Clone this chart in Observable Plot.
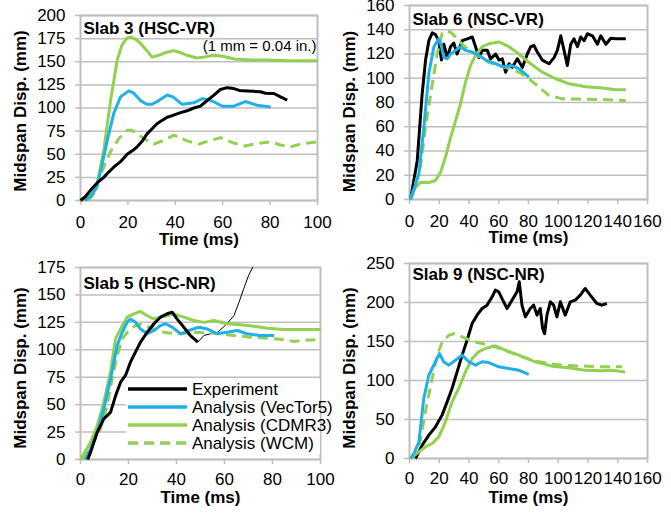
<!DOCTYPE html>
<html><head><meta charset="utf-8">
<script src="https://cdn.jsdelivr.net/npm/d3@7"></script>
<script src="https://cdn.jsdelivr.net/npm/@observablehq/plot@0.6"></script>
<style>
body{margin:0;background:#fff;font-family:"Liberation Sans",Arial,sans-serif;}
#wrap{position:relative;width:671px;height:521px;overflow:hidden;background:#fff;}
.panel{position:absolute;}
#legend{position:absolute;left:126px;top:379px;overflow:visible;}
</style></head><body>
<div id="wrap">
  <div class="panel" id="p1" style="left:0;top:0"></div>
  <div class="panel" id="p2" style="left:335px;top:0"></div>
  <div class="panel" id="p3" style="left:0;top:255px"></div>
  <div class="panel" id="p4" style="left:335px;top:255px"></div>
  <svg id="legend" width="215" height="76"></svg>
</div>
<script>
// ---------- data: [time (ms), midspan displacement (mm)] ----------
const titles = ["Slab 3 (HSC-VR)", "Slab 6 (NSC-VR)", "Slab 5 (HSC-NR)", "Slab 9 (NSC-NR)"];
const seriesNames = ["Experiment", "Analysis (VecTor5)", "Analysis (CDMR3)", "Analysis (WCM)"];
const xTicks100 = [0, 20, 40, 60, 80, 100];
const xTicks160 = [0, 20, 40, 60, 80, 100, 120, 140, 160];
const yTicks3 = [0, 25, 50, 75, 100, 125, 150, 175, 200];
const yTicks6 = [0, 20, 40, 60, 80, 100, 120, 140, 160];
const yTicks5 = [0, 25, 50, 75, 100, 125, 150, 175];
const yTicks9 = [0, 50, 100, 150, 200, 250];

// Slab 3
const s3Exp = [[0,0],[2,4],[4.2,11],[7,19],[9.8,25],[12,31],[14,36],[16.9,42],[19.7,50],[22,54],[23.9,58],[26,64],[28.1,72],[30,77],[32.3,83],[34,86],[36.6,90],[39,92],[42.2,95],[45,97],[47.8,100],[50.6,102],[53.4,108],[56.3,114],[59,120],[61.9,122],[64.7,121],[67,119],[70.3,118.5],[73,118],[75.9,117.5],[78,116],[81.6,115.7],[84.4,112],[87.2,108.5]];
const s3Vec = [[2,0],[4.5,5],[7,15],[9,38],[11.3,65],[14,94],[16.9,112],[20.4,118.5],[22.5,116],[25.3,108],[28,104],[30.2,104],[33,108],[36.6,114],[39,112],[42.9,104],[47.8,105.6],[51.3,110],[54,109],[56,107],[59.8,102],[64.7,102],[69.6,107],[74.5,103],[80.2,101]];
const s3Cdm = [[0,0],[2.8,2],[5,8],[7,18],[9.8,54],[12.7,108],[15.5,152],[17.5,168],[19.7,176],[21.5,176.5],[23.5,174],[25.3,170],[28,162],[30.2,155],[33,157],[36,160],[39.4,162],[42,160],[45,157],[49,154],[52,155],[56,157],[60,156],[65,153],[72,152],[79,152],[88,151],[100,151]];
const s3Wcm = [[3,0],[5,5],[7,18],[9.8,36],[12.7,53],[16.2,67],[19.7,76],[21.5,76],[23.2,73.5],[26.7,67],[30.9,61],[35.2,65],[39.4,70.6],[45,64.5],[49.9,61],[54.9,65],[59,68],[64.7,62],[69.6,59],[74.5,61.6],[80.2,63.4],[84.4,60],[88.6,58],[92.8,61],[100,63.4]];

// Slab 6
const s6Exp = [[0.7,0],[5.2,32],[8.5,87],[10.8,115],[13,131],[15.3,137.5],[17.5,136],[19.7,131],[21.5,115],[23.1,128],[25.4,117],[27.6,126],[29.8,129],[32,120],[35.5,131],[38.8,132.5],[42.2,134],[44.4,126],[46.7,117],[48.9,123],[52.3,123],[54.5,116],[57.9,120],[60.1,115],[62.4,116],[64.6,105],[66.9,112],[69.1,109],[72.5,116],[75.9,109],[79.2,120],[81.5,126],[83.7,127],[85.9,121.6],[89.3,115],[93.8,112],[97.2,117],[99.4,123],[101.7,135],[103.9,123],[106.1,110.5],[108.4,128],[110.6,132.6],[112.9,126],[115.1,134],[117.4,131],[119.6,136.7],[123,135],[126.3,128],[128.6,135],[132,128],[135.3,133],[138.7,132.6],[145.4,132.6]];
const s6Vec = [[0.7,0],[6.3,21],[9.7,60],[13,104],[16.4,126],[19.7,132.6],[21.5,126],[23.1,117],[25.4,116],[27.6,120],[31,123],[34.3,126],[37.7,123],[42.2,121.6],[46.7,119],[51.2,115],[57.9,112],[63.5,109],[68,110.6],[73.6,108],[80.3,101]];
const s6Cdm = [[0.7,0],[4,10],[7.4,14],[13,14],[17.5,15.7],[20.9,22.5],[24.2,35],[27.6,51],[31,65],[34.3,79],[37.7,97],[41.1,110.6],[44.4,119],[48.9,126],[53.4,128.4],[60.1,130],[66.9,126],[73.6,120],[80.3,113],[89.3,105],[98.3,99.6],[107.3,95.4],[118.5,93],[129.7,92],[138.7,90.5],[145.4,90.5]];
const s6Wcm = [[0.7,0],[7.4,27],[10.8,60],[15.3,95],[18.6,120],[22,137],[24.2,139],[27.6,138],[31,134],[35.5,128],[40,123],[46.7,118],[53.4,113],[60.1,110.6],[66.9,108],[73.6,105],[80.3,99.6],[87,92.7],[93.8,85.8],[102.8,83],[111.8,82.8],[129.7,82.5],[145.4,81.7]];

// Slab 5
const s5Exp = [[3,0],[4.2,6.7],[7,25],[9.7,37],[12.5,43],[14.6,58],[16.7,70.5],[18.75,76.6],[20.8,88.7],[22.9,97.8],[25,107],[27.8,116],[30.6,123.7],[33.3,129.7],[36.1,132.8],[38.2,134.3],[40.3,128],[43,120.6],[45.8,113],[48.9,107]];
const s5ExpLate = [[48.9,107],[51.4,113],[54.2,114.6],[57,115.5],[61,123.7],[63.9,131],[66,143],[68,155.6],[70.1,168],[72.2,177],[74,185]];
const s5Vec = [[2,0],[4.2,9.7],[7,25],[9.7,46],[12.5,73.5],[15.3,104],[17.4,116],[19.4,125],[20.8,128],[22.9,125],[25,119],[27.8,114.6],[30.6,117.6],[33.3,122],[35.4,123.7],[38.2,120.6],[41.7,114.6],[45.1,117.6],[49.3,120.6],[52.8,119],[56.9,114.6],[61.1,116],[65.3,117.6],[69.4,114.6],[75,113],[80.6,113]];
const s5Cdm = [[0,0],[4.2,15.8],[7,31],[9.7,52],[12.5,79.6],[14.6,110],[17.4,122],[19.4,129.7],[22.2,132.8],[25,135],[27.8,131],[30.6,128],[33.3,129.7],[36.1,131],[38.9,132.8],[43,129.7],[47.2,126.7],[51.4,125],[55.6,126.7],[61.1,123.7],[66.7,122.8],[72.2,121.5],[77.8,119.7],[84.7,118.5],[91.7,118.5],[100,118.5]];
const s5Wcm = [[0.7,0],[4.2,11],[8.3,28],[11.1,49],[13.2,73.5],[15.3,95],[17.4,110],[20.1,117.6],[22.9,122],[25.7,123.7],[28.5,120.6],[31.9,117.6],[36.1,115.5],[41.7,114.6],[47.2,116],[52.8,115.5],[58.3,114.6],[63.9,113],[70.8,111.5],[77.8,110.6],[84.7,109.4],[88.9,107.6],[93,108.5],[100,109.4]];

// Slab 9
const s9Exp = [[4,0],[8.5,17],[13,30],[17.5,40.6],[21.9,55.6],[25.3,72.6],[28.6,89.7],[32,111],[35.4,132.5],[38.7,151.7],[42.1,173],[45.4,183.8],[48.8,192.3],[52.1,196.6],[55.5,207],[57.7,215.8],[60,213.7],[62.2,205],[65.6,192.3],[68.9,203],[72.3,213.7],[73.8,226.5],[75.6,196.6],[77.9,181.6],[81.2,192.3],[83.5,196.6],[85.7,183.8],[87.9,192.3],[89.5,166.7],[90.8,160],[92.4,183.8],[94.7,200.9],[96.9,196.6],[99.1,181.6],[101.4,200.9],[104.7,183.8],[108.1,200.9],[111.4,203],[114.8,209.4],[118.1,218],[121.5,209.4],[126,198.7],[129.3,196.6],[132.7,198.7]];
const s9Vec = [[0.7,0],[2.9,6.4],[6.3,21],[9.6,77],[13,107],[17.5,124],[20.1,134.6],[23,124],[26.4,119.7],[30.9,126],[35.4,132.5],[39.8,124],[44.3,119.7],[48.8,124],[53.3,123],[60,117.5],[66.7,115.4],[73.4,113.2],[80.1,107.7]];
const s9Cdm = [[0.7,0],[6.3,8.5],[10.7,15],[15.2,19.2],[19.7,27.8],[24.2,47],[28.6,72.6],[33.1,89.7],[37.6,111],[42.1,128],[46.5,136.8],[51,141],[57.7,144.4],[64.4,138.9],[73.4,132.5],[84.6,124],[95.8,118.4],[107,116.2],[118.1,113.2],[129.3,112.4],[136,113.2],[145,111]];
const s9Wcm = [[0.7,0],[6.3,12.8],[10.7,60],[15.2,102.6],[18.6,132.5],[21.9,148.7],[26.4,158],[29.8,160],[35.4,156],[42.1,150.4],[48.8,147.4],[57.7,143],[66.7,136.8],[75.6,130.3],[84.6,124.8],[93.5,121.8],[102.5,119.7],[111.4,118.8],[120.4,118.4],[129.3,117.5],[142.8,117.5]];

// ---------- styling ----------
const colExp = "#000000", colVec = "#1FB0EA", colCdm = "#92D050";
const gridCol = "#bfbfbf";
const FONT = "'Liberation Sans', Arial, sans-serif";

function lineMark(arr, stroke, opts = {}) {
  return Plot.line(arr, {x: d => d[0], y: d => d[1], stroke, strokeWidth: 3,
    strokeLinejoin: "round", strokeLinecap: "butt", ...opts});
}

function makePanel(cfg) {
  const marks = [
    Plot.gridY(cfg.yTicks, {stroke: gridCol, strokeOpacity: 1, strokeWidth: 1.5}),
    Plot.frame({stroke: gridCol, strokeWidth: 2}),
    Plot.axisY(cfg.yTicks, {tickSize: 5, tickPadding: 10, fontSize: 17, stroke: gridCol, strokeWidth: 1.5, fill: "#000", label: null}),
    Plot.axisX(cfg.xTicks, {tickSize: 5, tickPadding: cfg.xPad, fontSize: 17, stroke: gridCol, strokeWidth: 1.5, fill: "#000", label: null}),
    ...cfg.lines,
    Plot.text([cfg.title], {frameAnchor: "top-left", textAnchor: "start", lineAnchor: "top", dx: 3, dy: cfg.titleDy, fontSize: 17, fontWeight: "bold"}),
    Plot.text(["Time (ms)"], {frameAnchor: "bottom", textAnchor: "middle", lineAnchor: "middle", dy: cfg.xlabDy, fontSize: 17, fontWeight: "bold"}),
    Plot.text(["Midspan Disp. (mm)"], {frameAnchor: "left", textAnchor: "middle", lineAnchor: "middle", rotate: -90, dx: cfg.ylabDx, dy: cfg.ylabDy, fontSize: 17, fontWeight: "bold"}),
    ...(cfg.extra || [])
  ];
  const p = Plot.plot({
    width: cfg.width, height: cfg.height,
    marginLeft: cfg.m[0], marginRight: cfg.m[1], marginTop: cfg.m[2], marginBottom: cfg.m[3],
    x: {domain: cfg.xDomain},
    y: {domain: cfg.yDomain},
    style: {fontFamily: FONT, background: "transparent", color: "#000"},
    marks
  });
  document.getElementById(cfg.id).appendChild(p);
}

makePanel({id: "p1", width: 335, height: 255, m: [80, 18, 15, 55],
  xDomain: [0, 100], xTicks: xTicks100, yDomain: [0, 200], yTicks: yTicks3, xPad: 10,
  title: titles[0], titleDy: 6.5, xlabDy: 39, ylabDx: -60, ylabDy: 3,
  lines: [
    lineMark(s3Wcm, colCdm, {strokeDasharray: "10,6"}),
    lineMark(s3Cdm, colCdm),
    lineMark(s3Vec, colVec),
    lineMark(s3Exp, colExp)
  ],
  extra: [Plot.text(["(1 mm = 0.04 in.)"], {frameAnchor: "top-right", textAnchor: "end", lineAnchor: "top", dx: -1, dy: 25, fontSize: 15})]
});

makePanel({id: "p2", width: 336, height: 255, m: [74, 24, 5, 56],
  xDomain: [0, 160], xTicks: xTicks160, yDomain: [0, 160], yTicks: yTicks6, xPad: 10,
  title: titles[1], titleDy: 7.5, xlabDy: 38, ylabDx: -59.5, ylabDy: 9,
  lines: [
    lineMark(s6Exp, colExp),
    lineMark(s6Cdm, colCdm),
    lineMark(s6Wcm, colCdm, {strokeDasharray: "10,6"}),
    lineMark(s6Vec, colVec)
  ]
});

makePanel({id: "p3", width: 335, height: 266, m: [80, 15, 12, 62],
  xDomain: [0, 100], xTicks: xTicks100, yDomain: [0, 175], yTicks: yTicks5, xPad: 8,
  title: titles[2], titleDy: 9.5, xlabDy: 38.5, ylabDx: -60, ylabDy: 4.5,
  lines: [
    lineMark(s5ExpLate, colExp, {strokeWidth: 1, clip: true}),
    lineMark(s5Wcm, colCdm, {strokeDasharray: "10,6"}),
    lineMark(s5Cdm, colCdm),
    lineMark(s5Vec, colVec),
    lineMark(s5Exp, colExp)
  ]
});

makePanel({id: "p4", width: 336, height: 266, m: [74, 24, 8, 63],
  xDomain: [0, 160], xTicks: xTicks160, yDomain: [0, 250], yTicks: yTicks9, xPad: 8,
  title: titles[3], titleDy: 4.5, xlabDy: 39.5, ylabDx: -59.5, ylabDy: 7,
  lines: [
    lineMark(s9Exp, colExp),
    lineMark(s9Cdm, colCdm),
    lineMark(s9Wcm, colCdm, {strokeDasharray: "10,6"}),
    lineMark(s9Vec, colVec)
  ]
});

// ---------- legend (in Slab 5 panel) ----------
const legendStyles = [
  {stroke: colExp, dash: null},
  {stroke: colVec, dash: null},
  {stroke: colCdm, dash: null},
  {stroke: colCdm, dash: "10,6"}
];
const legend = d3.select("#legend");
legend.append("rect").attr("x", 0).attr("y", 0).attr("width", 194).attr("height", 74).attr("fill", "#fff");
seriesNames.forEach((name, i) => {
  const y = 10 + i * 18;
  legend.append("line").attr("x1", 2).attr("x2", 61).attr("y1", y).attr("y2", y)
    .attr("stroke", legendStyles[i].stroke).attr("stroke-width", 3.5)
    .attr("stroke-dasharray", legendStyles[i].dash);
  legend.append("text").attr("x", 66).attr("y", y).attr("dy", "0.35em")
    .attr("font-family", FONT).attr("font-size", 17).attr("fill", "#000").text(name);
});
</script>
</body></html>
